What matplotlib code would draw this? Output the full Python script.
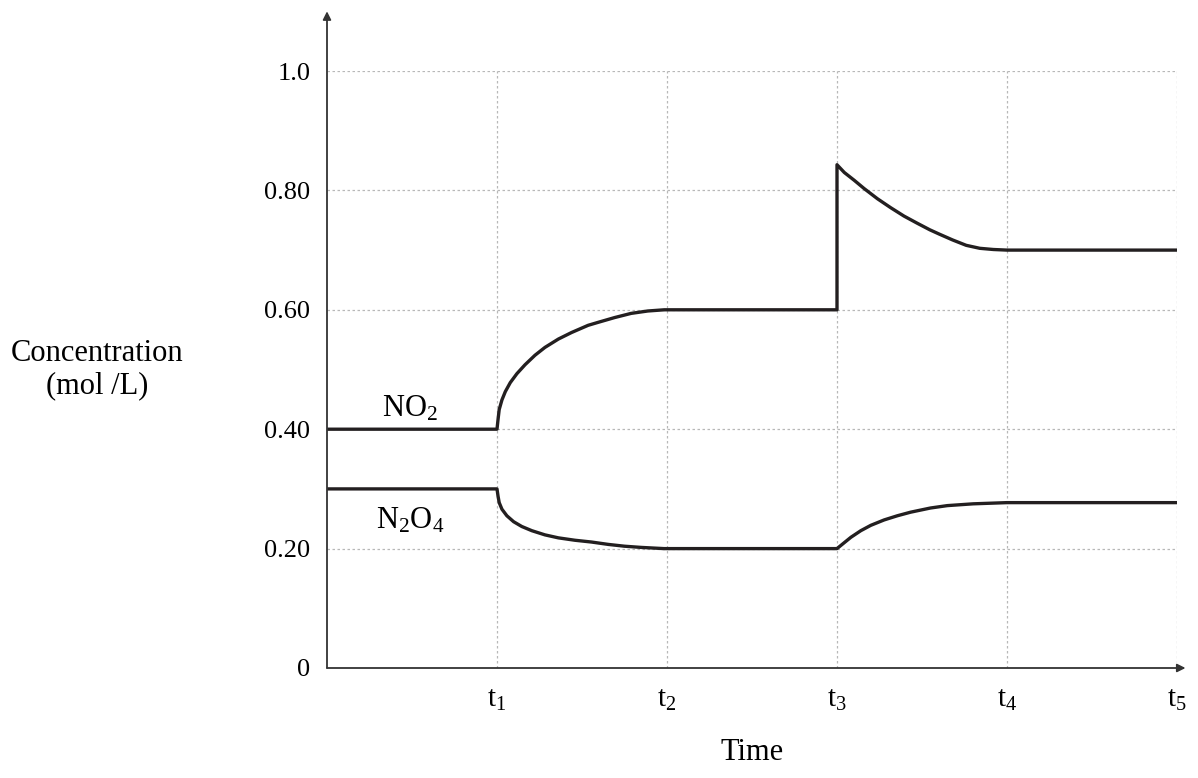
import matplotlib.pyplot as plt

plt.rcParams['font.family'] = ['Liberation Serif', 'DejaVu Serif']
plt.rcParams['mathtext.fontset'] = 'custom'
plt.rcParams['mathtext.rm'] = 'Liberation Serif'
plt.rcParams['mathtext.it'] = 'Liberation Serif'

# time in units of t1..t5, concentration in mol/L
no2_t = [0, 1.0, 1.006, 1.013, 1.029, 1.049, 1.078, 1.117, 1.165, 1.224, 1.282,
         1.361, 1.439, 1.536, 1.595, 1.692, 1.789, 1.887, 1.984, 2.0,
         3.0, 3.0, 3.043, 3.101, 3.160, 3.238, 3.316, 3.394, 3.472, 3.546,
         3.60, 3.68, 3.76, 3.84, 3.92, 4.0, 5.0]
no2_c = [0.40, 0.40, 0.416, 0.433, 0.449, 0.463, 0.478, 0.493, 0.508, 0.524, 0.537,
         0.551, 0.562, 0.574, 0.579, 0.587, 0.594, 0.598, 0.600, 0.600,
         0.600, 0.843, 0.830, 0.817, 0.803, 0.786, 0.771, 0.757, 0.745, 0.734,
         0.727, 0.717, 0.708, 0.703, 0.701, 0.700, 0.700]

n2o4_t = [0, 1.0, 1.006, 1.013, 1.029, 1.058, 1.098, 1.146, 1.205, 1.282, 1.361,
          1.458, 1.556, 1.655, 1.75, 1.848, 1.982, 2.0,
          3.0, 3.043, 3.082, 3.140, 3.199, 3.277, 3.355, 3.433, 3.550, 3.649,
          3.801, 4.0, 5.0]
n2o4_c = [0.30, 0.30, 0.288, 0.277, 0.266, 0.255, 0.245, 0.237, 0.230, 0.223, 0.218,
          0.214, 0.211, 0.207, 0.204, 0.202, 0.200, 0.200,
          0.200, 0.210, 0.219, 0.230, 0.239, 0.248, 0.255, 0.261, 0.268, 0.272,
          0.275, 0.277, 0.277]

y_ticks = [0, 0.2, 0.4, 0.6, 0.8, 1.0]
y_labels = ['0', '0.20', '0.40', '0.60', '0.80', '1.0']
x_ticks = [1, 2, 3, 4, 5]
x_labels = ['t$_1$', 't$_2$', 't$_3$', 't$_4$', 't$_5$']

fig = plt.figure(figsize=(11.98, 7.78), dpi=100)
ax = fig.add_axes([327/1198, 1 - 668/778, 850/1198, 597/778])

ax.set_xlim(0, 5)
ax.set_ylim(0, 1.0)

# dotted grid
for yv in y_ticks[1:]:
    ax.plot([0, 5], [yv, yv], color='#b8b8b8', lw=0.9, ls=(0, (2, 2)), zorder=1)
for xv in x_ticks:
    ax.plot([xv, xv], [0, 1.0], color='#b8b8b8', lw=0.9, ls=(0, (2, 2)), zorder=1)

ax.plot(no2_t, no2_c, color='#231f20', lw=2.4, zorder=3,
        solid_joinstyle='round', solid_capstyle='butt')
ax.plot(n2o4_t, n2o4_c, color='#231f20', lw=2.4, zorder=3,
        solid_joinstyle='round', solid_capstyle='butt')

ax.text(0.49, 0.41, 'NO$_2$', fontsize=22, ha='center', va='bottom')
ax.text(0.49, 0.272, 'N$_2$O$_4$', fontsize=22, ha='center', va='top')

for s in ax.spines.values():
    s.set_visible(False)

# axes with arrows
axis_col = '#333333'
ax.annotate('', xy=(0, 1.1), xytext=(0, 0), xycoords='data',
            arrowprops=dict(arrowstyle='-|>', color=axis_col, lw=1.3,
                            mutation_scale=12, shrinkA=0, shrinkB=0),
            annotation_clip=False)
ax.annotate('', xy=(5.05, 0), xytext=(0, 0), xycoords='data',
            arrowprops=dict(arrowstyle='-|>', color=axis_col, lw=1.3,
                            mutation_scale=12, shrinkA=0, shrinkB=0),
            annotation_clip=False)

ax.set_yticks(y_ticks)
ax.set_yticklabels(y_labels, fontsize=19)
ax.set_xticks(x_ticks)
ax.set_xticklabels(x_labels, fontsize=21)
ax.tick_params(length=0, pad=12)
ax.tick_params(axis='x', pad=14)

ax.set_xlabel('Time', fontsize=22, labelpad=18)
ax.set_ylabel('Concentration\n(mol /L)', fontsize=22, rotation=0,
              ha='center', va='center', labelpad=0, linespacing=1.15)
ax.yaxis.set_label_coords(-0.27, 0.5)

fig.savefig('out.png', dpi=100)
